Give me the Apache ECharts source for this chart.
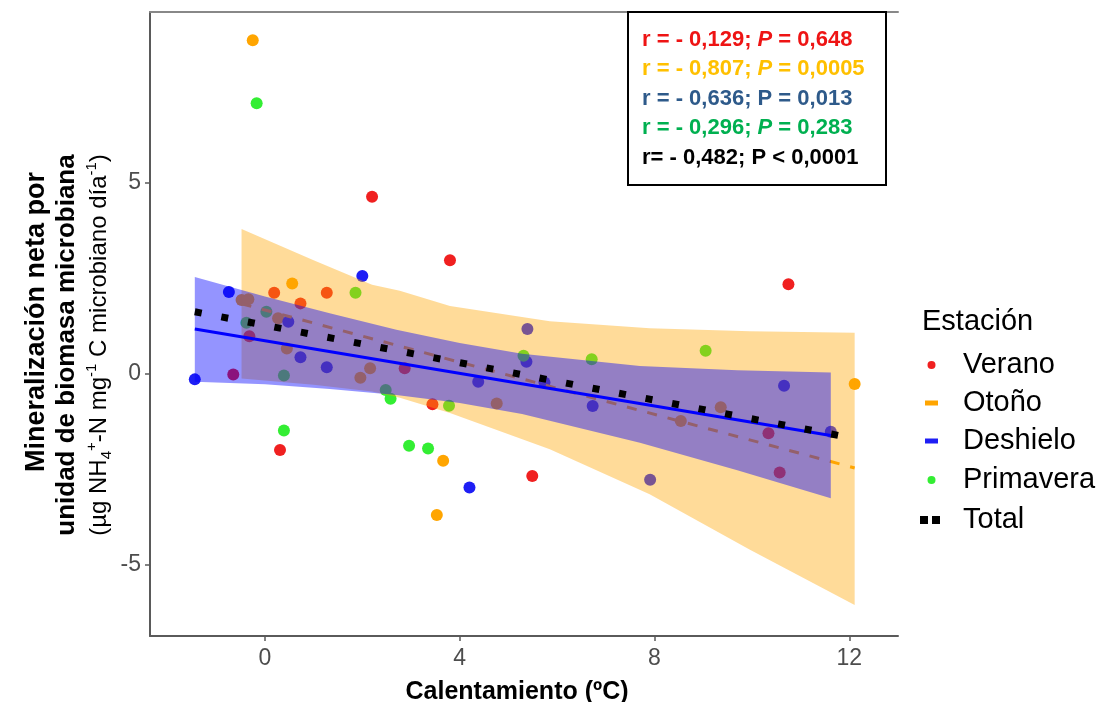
<!DOCTYPE html>
<html><head><meta charset="utf-8">
<script src="https://cdn.jsdelivr.net/npm/echarts@6/dist/echarts.min.js"></script>
<style>html,body{margin:0;padding:0;background:#fff}#c{width:1105px;height:702px}</style>
</head><body><div id="c"></div>
<script>
// ---- Data ----
const xTicks = [0, 4, 8, 12];
const yTicks = [-5, 0, 5];

const veranoX = [0.19, 1.27, 0.73, -0.32, 2.87, -0.65, 3.44, 0.31, 2.20, 3.80, 10.75, 10.34, 10.57, 5.49];
const veranoY = [2.13, 2.13, 1.85, 0.99, 0.15, -0.01, -0.79, -1.99, 4.64, 2.98, 2.35, -1.55, -2.58, -2.67];

const otonoX = [-0.25, 0.56, -0.48, -0.34, 0.27, 0.45, 2.16, 1.96, 4.76, 3.66, 3.53, 9.36, 8.54, 12.11];
const otonoY = [8.74, 2.37, 1.94, 1.96, 1.46, 0.67, 0.15, -0.10, -0.77, -2.27, -3.69, -0.87, -1.23, -0.26];

const deshieloX = [2.00, -0.74, 0.48, 0.73, 1.27, -1.44, 4.38, 4.20, 5.39, 5.37, 5.74, 6.73, 10.66, 11.62, 7.91];
const deshieloY = [2.57, 2.15, 1.37, 0.44, 0.18, -0.14, -0.20, -2.97, 1.18, 0.32, -0.22, -0.84, -0.31, -1.51, -2.77];

const primaveraX = [-0.17, 1.86, 0.03, -0.38, 0.39, 2.48, 2.58, 3.78, 0.39, 2.96, 3.35, 9.05, 6.71, 5.31];
const primaveraY = [7.09, 2.13, 1.63, 1.34, -0.04, -0.42, -0.65, -0.83, -1.48, -1.88, -1.95, 0.61, 0.39, 0.48];

// confidence bands (read at several x positions)
const otonoBandX = [-0.48, 1.0, 2.2, 2.77, 3.8, 5.85, 7.9, 9.96, 12.11];
const otonoUpper = [3.80, 2.98, 2.34, 2.18, 1.78, 1.38, 1.20, 1.12, 1.08];
const otonoLower = [-0.12, -0.28, -0.46, -0.62, -1.02, -1.97, -3.15, -4.60, -6.05];

const deshieloBandX = [-1.44, 0, 1.33, 2.7, 4.0, 5.28, 7.7, 9.7, 11.62];
const deshieloUpper = [2.54, 2.03, 1.59, 1.16, 0.81, 0.53, 0.21, 0.10, 0.04];
const deshieloLower = [-0.20, -0.27, -0.39, -0.55, -0.76, -1.05, -1.80, -2.52, -3.25];

// fitted lines (end points)
const otonoFitX = [-0.48, 12.11];
const otonoFitY = [1.84, -2.46];
const deshieloFitX = [-1.44, 11.62];
const deshieloFitY = [1.18, -1.61];
const totalFitX = [-1.44, 12.11];
const totalFitY = [1.63, -1.69];

const legendNames = ['Verano', 'Otoño', 'Deshielo', 'Primavera', 'Total'];
const statLines = [
  ['r = - 0,129; ', 'P', ' = 0,648', true],
  ['r = - 0,807; ', 'P', ' = 0,0005', true],
  ['r = - 0,636; ', 'P', ' = 0,013', false],
  ['r = - 0,296; ', 'P', ' = 0,283', true],
  ['r= - 0,482; ', 'P', ' < 0,0001', false]
];

// ---- Build chart ----
const zip = (a, b) => a.map((v, i) => [v, b[i]]);
const chart = echarts.init(document.getElementById('c'), null, {renderer: 'canvas'});

function bandSeries(name, X, U, L, fill, z) {
  return {
    type: 'custom', name: name, z: z, silent: true,
    data: zip(X, U),
    encode: {x: 0, y: 1},
    renderItem: function (params, api) {
      if (params.dataIndex !== 0) return null;
      const pts = [];
      for (let i = 0; i < X.length; i++) pts.push(api.coord([X[i], U[i]]));
      for (let i = X.length - 1; i >= 0; i--) pts.push(api.coord([X[i], L[i]]));
      return {type: 'polygon', shape: {points: pts}, style: {fill: fill}};
    }
  };
}
function scatterSeries(name, X, Y, color) {
  return {type: 'scatter', name: name, z: 2, data: zip(X, Y), symbolSize: 12,
    itemStyle: {color: color, opacity: 1}, silent: true};
}
function lineSeries(name, X, Y, color, width, type, z) {
  return {type: 'line', name: name, z: z, data: zip(X, Y), symbol: 'none', silent: true,
    itemStyle: {color: color},
    lineStyle: {color: color, width: width, type: type, cap: 'butt'}};
}

const FONT = 'Liberation Sans';
const statColors = ['#ee1414', '#ffc000', '#2e5a8a', '#00b050', '#000000'];
const rich = {};
let statText = '';
statLines.forEach((l, i) => {
  rich['n' + i] = {fill: statColors[i], fontWeight: 'bold', fontSize: 22, fontFamily: FONT, lineHeight: 29.5};
  rich['i' + i] = {fill: statColors[i], fontWeight: 'bold', fontStyle: 'italic', fontSize: 22, fontFamily: FONT, lineHeight: 29.5};
  statText += (i ? '\n' : '') + '{n' + i + '|' + l[0] + '}{' + (l[3] ? 'i' : 'n') + i + '|' + l[1] + '}{n' + i + '|' + l[2] + '}';
});

const legendRows = [
  {icon: 'circle', w: 8, h: 8, left: 927.5, cy: 365},
  {icon: 'rect', w: 13, h: 5, left: 925, cy: 403},
  {icon: 'rect', w: 13, h: 5, left: 925, cy: 441},
  {icon: 'circle', w: 8, h: 8, left: 927.5, cy: 480},
  {icon: 'path://M0,0h8v8h-8zM12,0h8v8h-8z', w: 20, h: 8, left: 920, cy: 520}
];
const TEXT_START = 963;
const legends = legendRows.map((r, i) => ({
  show: true, data: [{name: legendNames[i], icon: r.icon}],
  left: r.left, top: r.cy - 16, itemWidth: r.w, itemHeight: r.h,
  padding: 0, itemGap: 0, selectedMode: false,
  itemStyle: {borderWidth: 0},
  textStyle: {fontFamily: FONT, fontSize: 29, color: '#000', lineHeight: 32,
    padding: [0, 0, 0, TEXT_START - (r.left + r.w + 5)]}
}));

const axisGray = '#5a5a5a';
const option = {
  animation: false,
  backgroundColor: '#ffffff',
  grid: {left: 150, top: 12, width: 748, height: 624, containLabel: false, outerBoundsMode: 'none'},
  legend: legends,
  xAxis: [{
    type: 'value', min: -2.36, max: 13.0, splitLine: {show: false},
    axisLine: {show: true, onZero: false, lineStyle: {color: axisGray, width: 2}},
    axisTick: {show: true, length: 5, customValues: xTicks, lineStyle: {color: axisGray, width: 1.5}},
    axisLabel: {customValues: xTicks, fontFamily: FONT, fontSize: 23, color: '#4d4d4d', margin: 11},
    name: 'Calentamiento (ºC)', nameLocation: 'middle', nameGap: 44,
    nameTextStyle: {fontFamily: FONT, fontWeight: 'bold', fontSize: 25, color: '#000', padding: [0, 14, 0, 0]}
  }, {
    type: 'value', position: 'top', min: -2.36, max: 13.0, splitLine: {show: false},
    axisLine: {show: true, onZero: false, lineStyle: {color: '#888', width: 2}},
    axisTick: {show: false}, axisLabel: {show: false}
  }],
  yAxis: {
    type: 'value', min: -6.86, max: 9.48, splitLine: {show: false},
    axisLine: {show: true, onZero: false, lineStyle: {color: axisGray, width: 2}},
    axisTick: {show: true, length: 5, customValues: yTicks, lineStyle: {color: axisGray, width: 1.5}},
    axisLabel: {customValues: yTicks, fontFamily: FONT, fontSize: 23, color: '#4d4d4d', margin: 9}
  },
  series: [
    scatterSeries('Verano', veranoX, veranoY, '#f02020'),
    scatterSeries('Otoño', otonoX, otonoY, '#ffa500'),
    scatterSeries('Deshielo', deshieloX, deshieloY, '#1e1ef5'),
    scatterSeries('Primavera', primaveraX, primaveraY, '#33ee33'),
    bandSeries('Otoño IC', otonoBandX, otonoUpper, otonoLower, 'rgba(255,165,0,0.4)', 3),
    lineSeries('Otoño ajuste', otonoFitX, otonoFitY, '#ffa500', 3, [10, 11], 4),
    bandSeries('Deshielo IC', deshieloBandX, deshieloUpper, deshieloLower, 'rgba(0,0,255,0.42)', 5),
    lineSeries('Deshielo ajuste', deshieloFitX, deshieloFitY, '#0000ff', 3, 'solid', 6),
    lineSeries('Total', totalFitX, totalFitY, '#000000', 7, [7, 20], 7)
  ],
  graphic: [
    {type: 'rect', z: 100, shape: {x: 628, y: 12, width: 258, height: 173},
      style: {fill: '#fff', stroke: '#000', lineWidth: 2}},
    {type: 'text', z: 101, x: 642, y: 25,
      style: {text: statText, rich: rich, fontFamily: FONT, fontSize: 22, lineHeight: 29.5}},
    {type: 'text', z: 101, x: 922, y: 322,
      style: {text: 'Estación', fontFamily: FONT, fontSize: 29, fill: '#000', verticalAlign: 'middle'}},
    {type: 'text', z: 101, x: 37, y: 322, rotation: Math.PI / 2,
      style: {text: 'Mineralización neta por', fontFamily: FONT, fontWeight: 'bold', fontSize: 27, fill: '#000',
        align: 'center', verticalAlign: 'middle'}},
    {type: 'text', z: 101, x: 67, y: 345, rotation: Math.PI / 2,
      style: {text: 'unidad de biomasa microbiana', fontFamily: FONT, fontWeight: 'bold', fontSize: 26, fill: '#000',
        align: 'center', verticalAlign: 'middle'}},
    {type: 'text', z: 101, x: 99, y: 345, rotation: Math.PI / 2,
      style: {text: '(µg NH{sub|4}{sup|+}-N mg{sup|-1} C microbiano día{sup|-1})',
        fontFamily: FONT, fontSize: 24, fill: '#000', lineHeight: 30,
        align: 'center', verticalAlign: 'middle',
        rich: {
          sub: {fontFamily: FONT, fontSize: 15, verticalAlign: 'bottom', lineHeight: 30, fill: '#000'},
          sup: {fontFamily: FONT, fontSize: 15, verticalAlign: 'top', lineHeight: 30, fill: '#000'}
        }}}
  ]
};
chart.setOption(option);
</script>
</body></html>
